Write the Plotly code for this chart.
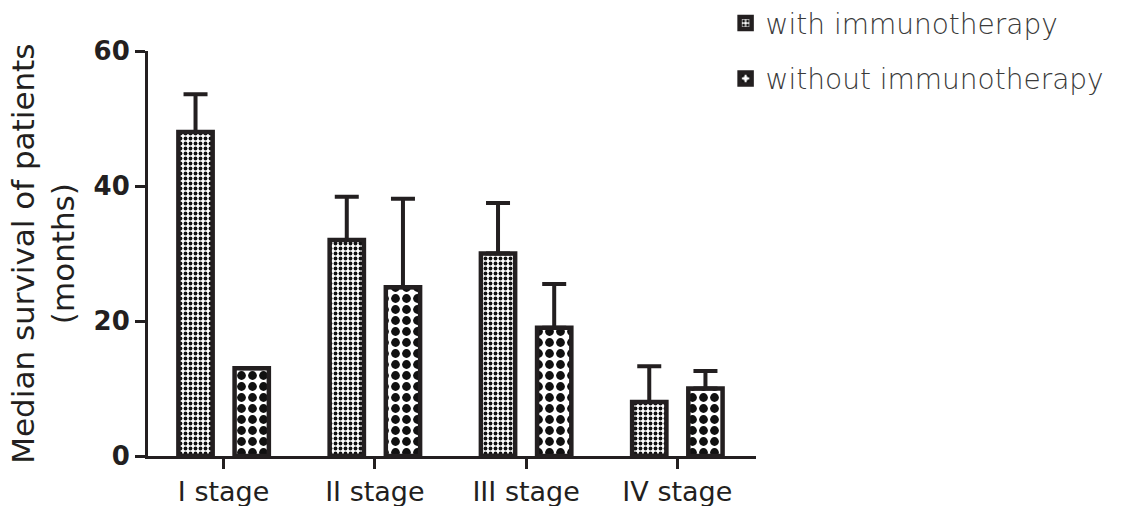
import plotly.graph_objects as go

# Median survival (months) by tumour stage
stages = ["I stage", "II stage", "III stage", "IV stage"]
with_immuno = [48, 32, 30, 8]
with_immuno_err = [5.6, 6.4, 7.5, 5.3]
without_immuno = [13, 25, 19, 10]
without_immuno_err = [0, 13.1, 6.5, 2.6]

y_ticks = [0, 20, 40, 60]

INK = "#231f20"
FONT = "DejaVu Sans, Liberation Sans, Arial, sans-serif"

fig = go.Figure()

fig.add_trace(go.Bar(
    x=stages, y=with_immuno, name="with immunotherapy",
    legendgroup="a",
    marker=dict(
        color="white",
        line=dict(color=INK, width=4.5),
        pattern=dict(shape=".", size=5, solidity=0.45, fgcolor="#111111",
                     fgopacity=1, bgcolor="white"),
    ),
    error_y=dict(type="data", array=with_immuno_err, arrayminus=[0] * 4, symmetric=False,
                 color=INK, thickness=4, width=12),
))
fig.add_trace(go.Bar(
    x=stages, y=without_immuno, name="without immunotherapy",
    legendgroup="b",
    marker=dict(
        color="white",
        line=dict(color=INK, width=4.5),
        pattern=dict(shape=".", size=11, solidity=0.5, fgcolor="#111111",
                     fgopacity=1, bgcolor="white"),
    ),
    error_y=dict(type="data", array=without_immuno_err, arrayminus=[0] * 4, symmetric=False,
                 color=INK, thickness=4, width=12),
))

fig.update_layout(
    width=1125, height=506,
    margin=dict(l=148, r=369, t=51, b=50, autoexpand=False),
    paper_bgcolor="white", plot_bgcolor="white",
    barmode="group", bargap=0.257, bargroupgap=0.39,
    font=dict(family=FONT, color=INK),
    showlegend=True,
    legend=dict(
        x=0.95, y=1.13, xanchor="left", yanchor="top",
        font=dict(size=28, color="#3a3a3a", family=FONT, weight=200),
        tracegroupgap=16, traceorder="grouped",
        bgcolor="rgba(0,0,0,0)",
    ),
    xaxis=dict(
        type="category", range=[-0.5, 3.52],
        showline=True, linecolor=INK, linewidth=3,
        ticks="outside", ticklen=10, tickwidth=3, tickcolor=INK,
        tickfont=dict(size=27, color=INK, family=FONT),
        showgrid=False, zeroline=False, automargin=False,
    ),
    yaxis=dict(
        range=[0, 60], tickvals=y_ticks,
        showline=True, linecolor=INK, linewidth=3,
        ticks="outside", ticklen=10, tickwidth=3, tickcolor=INK,
        tickfont=dict(size=26, color=INK, family=FONT, weight="bold"),
        showgrid=False, zeroline=False, automargin=False,
    ),
    annotations=[
        dict(
            text="Median survival of patients<br>(months)",
            textangle=-90, xref="paper", yref="paper",
            x=-0.174, y=0.5, xanchor="center", yanchor="middle",
            showarrow=False, font=dict(size=31, color=INK, family=FONT),
        )
    ],
)

fig.write_html("out.html")
